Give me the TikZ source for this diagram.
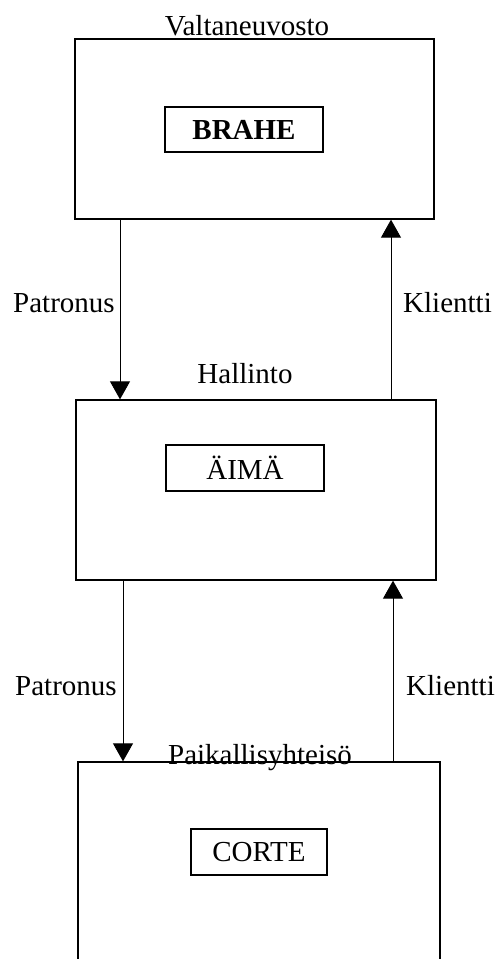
\documentclass[tikz,border=0pt]{standalone}
\usepackage{fontspec}
\setmainfont{Liberation Serif}
\usetikzlibrary{arrows.meta}
\begin{document}
\begin{tikzpicture}[x=1pt,y=-1pt,
  outer/.style={draw,line width=1.3pt,rectangle,inner sep=0pt},
  inner/.style={draw,line width=1.1pt,rectangle,inner sep=0pt,font=\fontsize{29}{32}\selectfont},
  lbl/.style={font=\fontsize{29}{32}\selectfont,inner sep=0pt},
  arr/.style={line width=0.9pt,-{Triangle[width=20pt,length=18pt]}}]
\useasboundingbox (0,0) rectangle (502,959);
\clip (0,0) rectangle (502,959);
% boxes
\node[outer,minimum width=359pt,minimum height=180pt] (box1) at (254.5,129) {};
\node[inner,minimum width=158pt,minimum height=45pt,font=\fontsize{29}{32}\selectfont\bfseries] (brahe) at (244,129.5) {BRAHE};
\node[outer,minimum width=360pt,minimum height=180pt] (box2) at (256,490) {};
\node[inner,minimum width=158pt,minimum height=46pt] (aima) at (245,468) {ÄIMÄ};
\node[outer,minimum width=362pt,minimum height=300pt] (box3) at (259,912) {};
\node[inner,minimum width=136pt,minimum height=46pt] (corte) at (259,852) {CORTE};
% labels
\node[lbl,anchor=base] (valt) at (247,35) {Valtaneuvosto};
\node[lbl,anchor=base] (hall) at (245,383) {Hallinto};
\node[lbl,anchor=base] (paik) at (260,764) {Paikallisyhteisö};
\node[lbl,anchor=base west] (pat1) at (13,312) {Patronus};
\node[lbl,anchor=base west] (kli1) at (403,312) {Klientti};
\node[lbl,anchor=base west] (pat2) at (15,695) {Patronus};
\node[lbl,anchor=base west] (kli2) at (406,695) {Klientti};
% connectors
\coordinate (xa) at (120,0);
\coordinate (xb) at (391,0);
\coordinate (xc) at (123,0);
\coordinate (xd) at (393,0);
\draw[arr] (xa |- box1.south) -- (xa |- box2.north);
\draw[arr] (xb |- box2.north) -- (xb |- box1.south);
\draw[arr] (xc |- box2.south) -- (xc |- box3.north);
\draw[arr] (xd |- box3.north) -- (xd |- box2.south);
\end{tikzpicture}
\end{document}
